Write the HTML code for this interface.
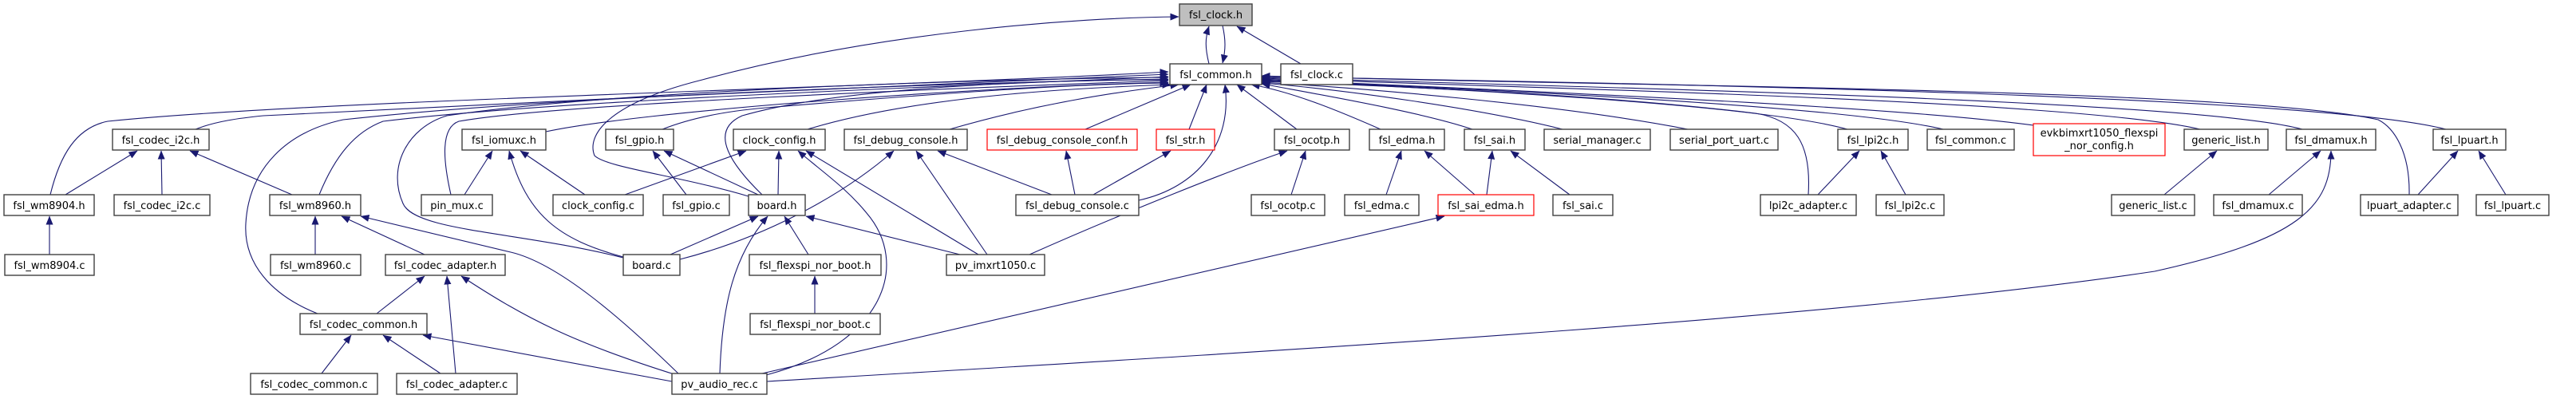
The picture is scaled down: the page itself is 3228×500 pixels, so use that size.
<!DOCTYPE html>
<html><head><meta charset="utf-8"><style>
html,body{margin:0;padding:0;background:#fff;}
svg{display:block;}
text{font-family:"DejaVu Sans","Liberation Sans",sans-serif;font-size:13px;fill:#000;text-anchor:middle;}
.n{fill:#fff;stroke:#404040;stroke-width:1.4;}
.r{fill:#fff;stroke:#ff0000;stroke-width:1.2;}
.g{fill:#bfbfbf;stroke:#404040;stroke-width:1.4;}
path.e{fill:none;stroke:#191970;stroke-width:1.1;marker-end:url(#a);}
</style></head><body>
<svg width="3228" height="500" viewBox="0 0 3228 500" xmlns="http://www.w3.org/2000/svg">
<defs><marker id="a" markerUnits="userSpaceOnUse" markerWidth="11" markerHeight="9" refX="10.5" refY="4.5" orient="auto"><path d="M0,0 L11,4.5 L0,9 z" fill="#191970"/></marker></defs>

<!-- edges -->
<path class="e" d="M1515,80 C1510,60 1510,48 1515,33"/>
<path class="e" d="M1532,32 C1536,50 1536,62 1532,79"/>
<path class="e" d="M1630,80 L1550,33"/>
<path class="e" d="M938,246 C850,220 760,210 745,195 C735,170 760,130 880,100 C1100,40 1350,22 1477,21"/>

<path class="e" d="M63,244 C75,195 95,160 135,152 C400,125 1100,110 1464,90"/>
<path class="e" d="M245,162 C270,152 300,148 330,145 C700,125 1200,105 1464,93"/>
<path class="e" d="M400,244 C420,195 445,165 480,152 C700,125 1200,108 1464,96"/>
<path class="e" d="M398,393 C340,370 305,330 308,280 C312,210 360,165 430,150 C700,120 1200,104 1464,99"/>
<path class="e" d="M565,244 C555,200 552,160 575,152 C700,130 1200,110 1464,101"/>
<path class="e" d="M684,165 C800,140 1200,110 1464,103"/>
<path class="e" d="M781,323 C650,290 520,290 505,255 C485,210 510,160 560,145 C800,110 1300,98 1464,97"/>
<path class="e" d="M830,162 C860,150 900,140 960,135 C1200,115 1350,105 1464,104"/>
<path class="e" d="M955,244 C920,210 885,165 930,145 C1050,110 1300,100 1464,100"/>
<path class="e" d="M1012,162 C1150,120 1350,110 1467,106"/>
<path class="e" d="M1190,162 C1300,130 1400,115 1477,106"/>
<path class="e" d="M1360,162 L1492,106"/>
<path class="e" d="M1490,162 L1512,106"/>
<path class="e" d="M1427,251 C1500,235 1545,180 1535,106"/>
<path class="e" d="M1625,162 L1550,106"/>
<path class="e" d="M1730,162 C1680,140 1620,115 1568,106"/>
<path class="e" d="M1845,162 C1780,140 1650,118 1581,105"/>
<path class="e" d="M1958,162 C1850,135 1680,112 1581,104"/>
<path class="e" d="M2115,162 C1950,130 1700,110 1581,103"/>
<path class="e" d="M2266,244 C2270,180 2250,150 2200,142 C2000,118 1750,108 1581,102"/>
<path class="e" d="M2315,162 C2200,130 1800,110 1581,101"/>
<path class="e" d="M2435,162 C2300,130 1800,110 1581,100"/>
<path class="e" d="M2548,157 C2350,130 1800,110 1581,99"/>
<path class="e" d="M2757,162 C2600,125 1900,110 1581,98"/>
<path class="e" d="M2885,162 C2750,125 2000,110 1581,97"/>
<path class="e" d="M3065,162 C2900,120 2100,105 1581,96"/>
<path class="e" d="M3019,244 C3020,190 3000,160 2980,150 C2800,110 2000,108 1581,95"/>

<path class="e" d="M82,244 L172,189"/>
<path class="e" d="M203,244 L202,189"/>
<path class="e" d="M366,244 L238,189"/>
<path class="e" d="M62,319 L62,271"/>
<path class="e" d="M395,319 L395,271"/>
<path class="e" d="M532,319 L428,271"/>
<path class="e" d="M852,470 C780,400 700,330 640,316 L452,271"/>
<path class="e" d="M472,393 L532,346"/>
<path class="e" d="M571,468 L560,346"/>
<path class="e" d="M848,470 C720,430 660,400 578,346"/>
<path class="e" d="M403,468 L440,420"/>
<path class="e" d="M552,468 L480,420"/>
<path class="e" d="M842,478 L530,420"/>
<path class="e" d="M582,244 L617,189"/>
<path class="e" d="M781,322 C700,300 660,270 638,189"/>
<path class="e" d="M733,244 L652,189"/>
<path class="e" d="M783,244 L935,189"/>
<path class="e" d="M860,244 L818,189"/>
<path class="e" d="M950,244 L832,189"/>
<path class="e" d="M975,244 L976,189"/>
<path class="e" d="M840,319 L950,271"/>
<path class="e" d="M902,468 C905,380 920,320 962,271"/>
<path class="e" d="M1013,319 L983,271"/>
<path class="e" d="M1203,319 L1010,271"/>
<path class="e" d="M960,470 C1110,430 1140,330 1086,267 C1060,235 1030,215 1000,189"/>
<path class="e" d="M1226,319 L1010,189"/>
<path class="e" d="M852,325 C950,300 1050,250 1120,189"/>
<path class="e" d="M1237,319 L1148,189"/>
<path class="e" d="M1318,244 L1175,189"/>
<path class="e" d="M1347,244 L1336,189"/>
<path class="e" d="M1370,244 L1467,189"/>
<path class="e" d="M1021,393 L1021,346"/>
<path class="e" d="M1290,319 C1400,270 1550,210 1613,189"/>
<path class="e" d="M1618,244 L1636,189"/>
<path class="e" d="M955,468 L1810,271"/>
<path class="e" d="M961,478 C1600,440 2300,400 2700,340 C2880,300 2921,260 2921,189"/>
<path class="e" d="M1737,244 L1756,189"/>
<path class="e" d="M1848,244 L1785,189"/>
<path class="e" d="M1863,244 L1870,189"/>
<path class="e" d="M1967,244 L1893,189"/>
<path class="e" d="M2278,244 L2330,189"/>
<path class="e" d="M2388,244 L2357,189"/>
<path class="e" d="M2712,244 L2778,189"/>
<path class="e" d="M2843,244 L2908,189"/>
<path class="e" d="M3030,244 L3080,189"/>
<path class="e" d="M3140,244 L3106,189"/>

<!-- nodes -->
<rect class="g" x="1478" y="5" width="91" height="27"/><text x="1523.5" y="23">fsl_clock.h</text>
<rect class="n" x="1466" y="80" width="115" height="26"/><text x="1523.5" y="98">fsl_common.h</text>
<rect class="n" x="1605" y="80" width="90" height="26"/><text x="1650" y="98">fsl_clock.c</text>

<rect class="n" x="141" y="162" width="121" height="26"/><text x="201.5" y="180">fsl_codec_i2c.h</text>
<rect class="n" x="579" y="162" width="105" height="26"/><text x="631.5" y="180">fsl_iomuxc.h</text>
<rect class="n" x="759" y="162" width="85" height="26"/><text x="801.5" y="180">fsl_gpio.h</text>
<rect class="n" x="919" y="162" width="115" height="26"/><text x="976.5" y="180">clock_config.h</text>
<rect class="n" x="1058" y="162" width="154" height="26"/><text x="1135" y="180">fsl_debug_console.h</text>
<rect class="r" x="1237" y="162" width="188" height="26"/><text x="1331" y="180">fsl_debug_console_conf.h</text>
<rect class="r" x="1449" y="162" width="73" height="26"/><text x="1485.5" y="180">fsl_str.h</text>
<rect class="n" x="1597" y="162" width="94" height="26"/><text x="1644" y="180">fsl_ocotp.h</text>
<rect class="n" x="1716" y="162" width="94" height="26"/><text x="1763" y="180">fsl_edma.h</text>
<rect class="n" x="1835" y="162" width="76" height="26"/><text x="1873" y="180">fsl_sai.h</text>
<rect class="n" x="1935" y="162" width="133" height="26"/><text x="2001.5" y="180">serial_manager.c</text>
<rect class="n" x="2093" y="162" width="135" height="26"/><text x="2160.5" y="180">serial_port_uart.c</text>
<rect class="n" x="2303" y="162" width="88" height="26"/><text x="2347" y="180">fsl_lpi2c.h</text>
<rect class="n" x="2415" y="162" width="109" height="26"/><text x="2469.5" y="180">fsl_common.c</text>
<rect class="r" x="2548" y="155" width="165" height="40"/><text x="2630.5" y="171">evkbimxrt1050_flexspi</text><text x="2630.5" y="187">_nor_config.h</text>
<rect class="n" x="2737" y="162" width="105" height="26"/><text x="2789.5" y="180">generic_list.h</text>
<rect class="n" x="2865" y="162" width="112" height="26"/><text x="2921" y="180">fsl_dmamux.h</text>
<rect class="n" x="3049" y="162" width="91" height="26"/><text x="3094.5" y="180">fsl_lpuart.h</text>

<rect class="n" x="5" y="244" width="113" height="26"/><text x="61.5" y="262">fsl_wm8904.h</text>
<rect class="n" x="143" y="244" width="120" height="26"/><text x="203" y="262">fsl_codec_i2c.c</text>
<rect class="n" x="338" y="244" width="114" height="26"/><text x="395" y="262">fsl_wm8960.h</text>
<rect class="n" x="528" y="244" width="89" height="26"/><text x="572.5" y="262">pin_mux.c</text>
<rect class="n" x="693" y="244" width="113" height="26"/><text x="749.5" y="262">clock_config.c</text>
<rect class="n" x="831" y="244" width="83" height="26"/><text x="872.5" y="262">fsl_gpio.c</text>
<rect class="n" x="938" y="244" width="71" height="26"/><text x="973.5" y="262">board.h</text>
<rect class="n" x="1273" y="244" width="154" height="26"/><text x="1350" y="262">fsl_debug_console.c</text>
<rect class="n" x="1568" y="244" width="92" height="26"/><text x="1614" y="262">fsl_ocotp.c</text>
<rect class="n" x="1685" y="244" width="93" height="26"/><text x="1731.5" y="262">fsl_edma.c</text>
<rect class="r" x="1802" y="244" width="120" height="26"/><text x="1862" y="262">fsl_sai_edma.h</text>
<rect class="n" x="1946" y="244" width="75" height="26"/><text x="1983.5" y="262">fsl_sai.c</text>
<rect class="n" x="2206" y="244" width="120" height="26"/><text x="2266" y="262">lpi2c_adapter.c</text>
<rect class="n" x="2351" y="244" width="85" height="26"/><text x="2393.5" y="262">fsl_lpi2c.c</text>
<rect class="n" x="2646" y="244" width="104" height="26"/><text x="2698" y="262">generic_list.c</text>
<rect class="n" x="2774" y="244" width="111" height="26"/><text x="2829.5" y="262">fsl_dmamux.c</text>
<rect class="n" x="2958" y="244" width="122" height="26"/><text x="3019" y="262">lpuart_adapter.c</text>
<rect class="n" x="3103" y="244" width="91" height="26"/><text x="3148.5" y="262">fsl_lpuart.c</text>

<rect class="n" x="6" y="319" width="112" height="26"/><text x="62" y="337">fsl_wm8904.c</text>
<rect class="n" x="339" y="319" width="113" height="26"/><text x="395.5" y="337">fsl_wm8960.c</text>
<rect class="n" x="483" y="319" width="150" height="26"/><text x="558" y="337">fsl_codec_adapter.h</text>
<rect class="n" x="781" y="319" width="71" height="26"/><text x="816.5" y="337">board.c</text>
<rect class="n" x="939" y="319" width="165" height="26"/><text x="1021.5" y="337">fsl_flexspi_nor_boot.h</text>
<rect class="n" x="1186" y="319" width="123" height="26"/><text x="1247.5" y="337">pv_imxrt1050.c</text>

<rect class="n" x="376" y="393" width="159" height="26"/><text x="455.5" y="411">fsl_codec_common.h</text>
<rect class="n" x="940" y="393" width="163" height="26"/><text x="1021.5" y="411">fsl_flexspi_nor_boot.c</text>

<rect class="n" x="314" y="468" width="159" height="26"/><text x="393.5" y="486">fsl_codec_common.c</text>
<rect class="n" x="497" y="468" width="151" height="26"/><text x="572.5" y="486">fsl_codec_adapter.c</text>
<rect class="n" x="842" y="468" width="119" height="26"/><text x="901.5" y="486">pv_audio_rec.c</text>
</svg>
</body></html>
